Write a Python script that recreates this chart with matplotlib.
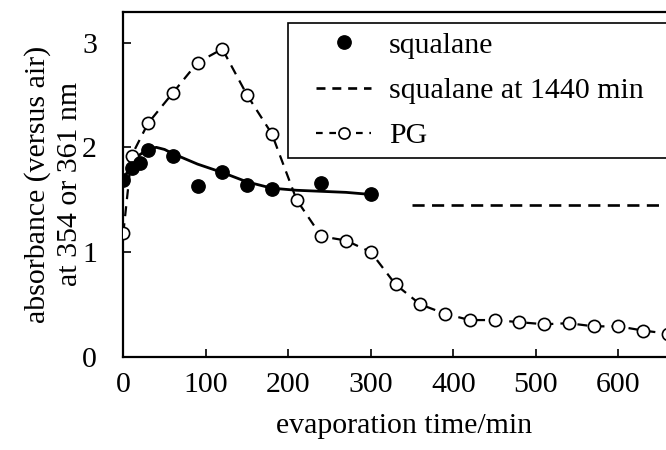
import matplotlib
matplotlib.use("Agg")
import matplotlib.pyplot as plt
from matplotlib.lines import Line2D
from matplotlib.legend_handler import HandlerLine2D

plt.rcParams['font.family'] = ['Liberation Serif', 'DejaVu Serif']

# squalane measurements
squalane_t = [0, 10, 20, 30, 60, 90, 120, 150, 180, 240, 300]
squalane_a = [1.69, 1.80, 1.85, 1.97, 1.92, 1.63, 1.76, 1.64, 1.60, 1.66, 1.55]

# smoothed squalane trend
trend_t = [0, 10, 20, 30, 40, 50, 60, 90, 120, 150, 180, 210, 240, 270, 300]
trend_a = [1.69, 1.84, 1.93, 1.98, 2.00, 1.98, 1.94, 1.84, 1.76, 1.67, 1.61, 1.59, 1.58, 1.57, 1.55]

# squalane level after 1440 min
ref_start = 350
ref_level = 1.45

# propylene glycol (PG)
pg_t = [0, 10, 30, 60, 90, 120, 150, 180, 210, 240, 270, 300, 330, 360,
        390, 420, 450, 480, 510, 540, 570, 600, 630, 660]
pg_a = [1.18, 1.92, 2.23, 2.52, 2.81, 2.94, 2.50, 2.13, 1.50, 1.15, 1.11, 1.00,
        0.69, 0.50, 0.41, 0.35, 0.35, 0.33, 0.31, 0.32, 0.29, 0.29, 0.25, 0.22]

x_ticks = [0, 100, 200, 300, 400, 500, 600]
y_ticks = [0, 1, 2, 3]
x_max = 680
y_max = 3.296

W, H = 666, 450
fig = plt.figure(figsize=(W / 100, H / 100), dpi=100)
left, bottom, top = 123.3, 356.7, 11.7
ax = fig.add_axes([left / W, (H - bottom) / H, (x_max * 0.825) / W, (bottom - top) / H])

fs = 21.5
pg_dash = (0, (4.5, 3.2))
ref_dash = (0, (4.6, 2.8))

ax.plot(trend_t, trend_a, color='black', lw=2.0, solid_capstyle='round',
        solid_joinstyle='round', zorder=2)
ax.plot(pg_t, pg_a, color='black', lw=1.6, linestyle=pg_dash, marker='o', ms=8.8,
        mfc='white', mec='black', mew=1.2, zorder=3)
ax.plot(squalane_t, squalane_a, linestyle='none', marker='o', ms=9.6,
        color='black', zorder=4)
ax.plot([ref_start, x_max], [ref_level, ref_level], color='black', lw=1.9,
        linestyle=ref_dash, zorder=2)

ax.set_xlim(0, x_max)
ax.set_ylim(0, y_max)
ax.set_xticks(x_ticks)
ax.set_yticks(y_ticks)
ax.tick_params(direction='in', length=6, width=1.2, labelsize=fs)
ax.tick_params(axis='x', pad=11)
ax.tick_params(axis='y', pad=19)
for s in ['left', 'bottom', 'top']:
    ax.spines[s].set_linewidth(1.6)
ax.spines['right'].set_visible(False)

ax.set_xlabel('evaporation time/min', fontsize=fs, labelpad=11)
ax.set_ylabel('absorbance (versus air)\nat 354 or 361 nm', fontsize=fs,
              labelpad=-1, linespacing=1.3)

handles = [
    Line2D([], [], linestyle='none', marker='o', ms=9.6, color='black'),
    Line2D([], [], color='black', lw=1.9, linestyle=(0, (3.4, 2.6))),
    Line2D([], [], color='black', lw=1.6, linestyle=(0, (3.0, 3.0)), marker='o',
           ms=8.0, mfc='white', mec='black', mew=1.2),
]
labels = ['squalane', 'squalane at 1440 min', 'PG']
hmap = {h: HandlerLine2D(xpad=0.64) for h in handles}
leg = ax.legend(handles, labels, loc='upper left',
                bbox_to_anchor=(288 / W, 1 - 22.7 / H, 0.6, 0),
                bbox_transform=fig.transFigure, mode='expand',
                fontsize=fs, frameon=True, fancybox=False, framealpha=1,
                edgecolor='black', borderpad=0.3, handlelength=2.48,
                handletextpad=0.6, labelspacing=0.62, borderaxespad=0,
                handler_map=hmap, numpoints=1)
leg.get_frame().set_linewidth(1.2)
leg.set_zorder(5)

fig.savefig('out.png', dpi=100)
